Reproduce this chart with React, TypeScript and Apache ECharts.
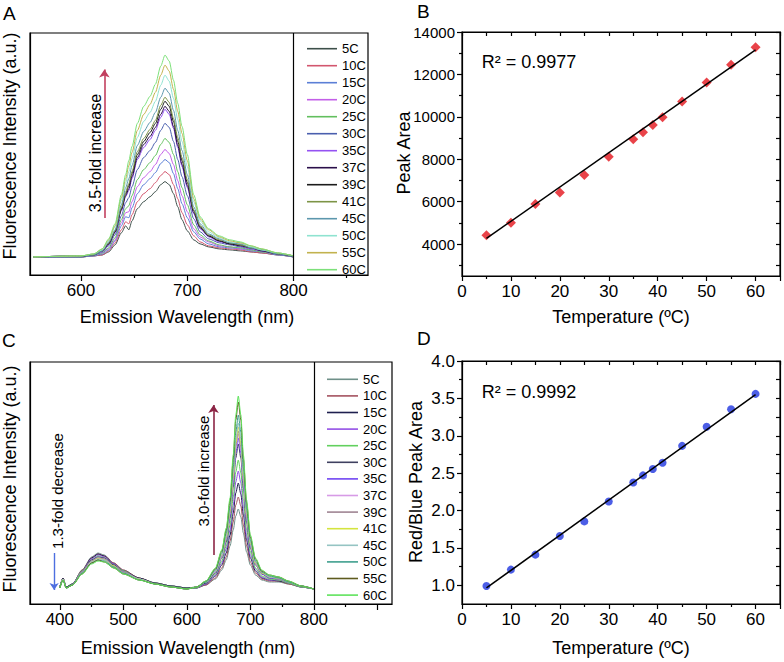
import React, { useEffect, useRef } from 'react';
import * as echarts from 'echarts';

const FONT = '"Liberation Sans", Arial, Helvetica, sans-serif';

// ---------- shared categories ----------
const TEMP_LABELS = ['5C', '10C', '15C', '20C', '25C', '30C', '35C', '37C', '39C', '41C', '45C', '50C', '55C', '60C'];

// ---------- Panel A : red-emission spectra ----------
const WL_A = [555, 600, 612, 620, 626, 632, 638, 642, 645, 648, 653, 659, 665, 670, 675, 679, 683, 687, 691, 695, 700, 706, 712, 720, 730, 740, 750, 760, 770, 785, 800];
const A_5C = [0, 0, 1, 2, 5, 12, 24, 31, 27, 36, 48, 55, 60, 65, 72, 75, 72, 63, 50, 37, 26, 17, 13, 10, 8, 7, 6, 5, 4, 2, 0];
const A_10C = [0, 0, 1, 2, 6, 14, 27, 35, 33, 42, 55, 63, 68, 74, 81, 85, 82, 72, 58, 44, 32, 21, 15, 11, 9, 8, 7, 5, 4, 2, 0];
const A_15C = [0, 0, 1, 3, 7, 16, 31, 40, 39, 49, 63, 72, 78, 84, 93, 97, 94, 83, 68, 53, 39, 25, 18, 13, 10, 9, 8, 6, 5, 2, 0];
const A_20C = [0, 0, 2, 4, 8, 17, 34, 44, 45, 55, 70, 79, 85, 92, 102, 107, 103, 92, 76, 61, 45, 28, 20, 15, 11, 10, 8, 7, 5, 3, 0];
const A_25C = [0, 0, 2, 4, 9, 19, 37, 48, 51, 61, 77, 87, 94, 101, 112, 118, 114, 102, 85, 69, 52, 32, 22, 16, 12, 10, 9, 7, 5, 3, 0];
const A_30C = [0, 0, 2, 5, 11, 22, 41, 54, 59, 70, 87, 99, 106, 114, 126, 133, 129, 115, 97, 80, 61, 38, 25, 18, 14, 12, 10, 8, 6, 3, 0];
const A_35C = [0, 1, 2, 5, 12, 24, 46, 60, 66, 78, 97, 109, 117, 126, 139, 147, 142, 128, 109, 90, 69, 43, 28, 20, 15, 13, 11, 8, 6, 3, 1];
const A_37C = [0, 1, 2, 6, 13, 25, 47, 61, 68, 80, 99, 112, 120, 129, 142, 150, 145, 130, 111, 92, 71, 44, 29, 21, 16, 13, 11, 9, 6, 3, 1];
const A_39C = [0, 1, 2, 6, 13, 25, 48, 63, 71, 83, 102, 115, 124, 133, 147, 155, 150, 135, 115, 96, 74, 46, 30, 21, 16, 13, 12, 9, 7, 3, 1];
const A_41C = [0, 1, 2, 6, 14, 26, 49, 65, 73, 85, 105, 118, 127, 136, 151, 159, 154, 138, 119, 99, 77, 47, 31, 22, 17, 14, 12, 9, 7, 3, 1];
const A_45C = [0, 1, 2, 6, 15, 27, 52, 69, 78, 91, 111, 125, 134, 144, 159, 168, 163, 146, 126, 106, 82, 50, 33, 23, 18, 14, 13, 9, 7, 3, 1];
const A_50C = [0, 1, 3, 7, 16, 30, 56, 74, 85, 98, 119, 135, 144, 155, 171, 181, 175, 158, 137, 115, 90, 55, 36, 25, 19, 15, 14, 10, 7, 4, 1];
const A_55C = [0, 1, 3, 8, 17, 31, 59, 78, 91, 104, 126, 142, 152, 164, 181, 191, 185, 167, 145, 123, 96, 58, 38, 27, 20, 16, 14, 11, 8, 4, 1];
const A_60C = [0, 1, 3, 8, 18, 33, 62, 82, 96, 110, 133, 150, 160, 172, 190, 201, 195, 176, 153, 130, 102, 62, 40, 28, 21, 17, 15, 11, 8, 4, 1];
const SPEC_A = [A_5C, A_10C, A_15C, A_20C, A_25C, A_30C, A_35C, A_37C, A_39C, A_41C, A_45C, A_50C, A_55C, A_60C];
const COLORS_A = ['#3d4f4a', '#d2566e', '#5b7fd6', '#c35fe8', '#62bf5e', '#4a5fae', '#9552f2', '#2a0f4a', '#1c1c1c', '#7d9446', '#5c97ad', '#8fe3d0', '#c2b24e', '#7de07a'];
const A_TICK_LABELS = [600, 700, 800];
const A_MINOR_TICKS = [650, 750, 850];

// ---------- Panel C : full spectra ----------
const WL_C = [400, 405, 410, 420, 435, 450, 460, 470, 485, 500, 525, 550, 575, 600, 615, 630, 645, 655, 662, 668, 673, 677, 681, 685, 689, 694, 700, 708, 718, 730, 745, 760, 780, 800];
const C_5C = [3, 12, 3, 6, 20, 33, 37, 35, 27, 20, 12, 7, 4, 2, 2, 5, 11, 20, 30, 44, 60, 74, 81, 73, 57, 38, 25, 15, 10, 8, 8, 6, 3, 1];
const C_10C = [3, 12, 3, 6, 20, 32, 36, 34, 27, 20, 12, 7, 4, 2, 2, 5, 12, 22, 33, 49, 68, 85, 93, 84, 65, 44, 28, 17, 11, 9, 9, 6, 3, 1];
const C_15C = [3, 12, 3, 6, 19, 32, 36, 34, 26, 19, 12, 7, 4, 2, 2, 6, 14, 25, 37, 55, 77, 97, 107, 96, 75, 50, 32, 19, 12, 10, 9, 7, 3, 1];
const C_20C = [3, 11, 3, 6, 19, 31, 35, 33, 26, 19, 11, 7, 4, 2, 2, 6, 15, 27, 41, 60, 85, 108, 119, 107, 83, 55, 35, 21, 13, 10, 10, 7, 3, 1];
const C_25C = [3, 11, 3, 6, 19, 30, 34, 32, 25, 19, 11, 7, 4, 2, 2, 7, 16, 29, 44, 65, 93, 118, 130, 117, 91, 61, 38, 22, 14, 11, 10, 7, 3, 1];
const C_30C = [3, 11, 3, 6, 18, 30, 33, 32, 25, 18, 11, 7, 4, 2, 3, 7, 17, 32, 48, 72, 103, 132, 146, 132, 102, 68, 42, 25, 16, 12, 11, 8, 4, 1];
const C_35C = [2, 11, 2, 5, 18, 29, 33, 31, 24, 18, 11, 6, 3, 1, 3, 8, 18, 33, 50, 74, 107, 137, 152, 137, 106, 71, 44, 26, 16, 12, 11, 8, 4, 1];
const C_37C = [2, 11, 2, 5, 18, 29, 32, 31, 24, 18, 11, 6, 3, 1, 3, 8, 18, 33, 51, 76, 110, 141, 156, 141, 109, 73, 45, 26, 17, 13, 11, 8, 4, 1];
const C_39C = [2, 11, 2, 5, 18, 29, 32, 31, 24, 18, 11, 6, 3, 1, 3, 8, 19, 34, 52, 77, 112, 144, 159, 143, 111, 74, 46, 27, 17, 13, 11, 8, 4, 1];
const C_41C = [2, 11, 2, 5, 17, 28, 32, 30, 24, 17, 11, 6, 3, 1, 3, 8, 19, 35, 53, 79, 114, 147, 163, 147, 114, 76, 47, 27, 17, 13, 12, 8, 4, 1];
const C_45C = [2, 11, 2, 5, 17, 28, 31, 30, 23, 17, 11, 6, 3, 1, 3, 8, 19, 35, 54, 81, 117, 151, 167, 151, 116, 78, 48, 28, 18, 13, 12, 8, 4, 1];
const C_50C = [2, 10, 2, 5, 17, 27, 30, 29, 23, 17, 10, 6, 3, 1, 3, 8, 20, 37, 57, 84, 122, 158, 175, 158, 122, 81, 50, 29, 18, 14, 12, 8, 4, 1];
const C_55C = [2, 10, 2, 5, 16, 27, 30, 28, 22, 16, 10, 6, 3, 1, 3, 9, 21, 39, 60, 89, 131, 170, 188, 170, 131, 87, 53, 31, 19, 15, 13, 9, 4, 1];
const C_60C = [2, 10, 2, 5, 16, 26, 29, 28, 22, 16, 10, 6, 3, 1, 3, 9, 22, 40, 62, 92, 135, 175, 194, 175, 135, 90, 55, 32, 20, 15, 13, 9, 4, 1];
const SPEC_C = [C_5C, C_10C, C_15C, C_20C, C_25C, C_30C, C_35C, C_37C, C_39C, C_41C, C_45C, C_50C, C_55C, C_60C];
const COLORS_C = ['#6f9089', '#a4525f', '#1e1f4f', '#9350e6', '#62d05e', '#3f4060', '#7044f2', '#d79be6', '#a08593', '#d4e43f', '#95c4c3', '#3f9f8e', '#5e5b1e', '#5fe35c'];
const C_TICK_LABELS = [400, 500, 600, 700, 800];
const C_MAJOR_TICKS = [400, 500, 600, 700, 800, 900];
const C_MINOR_TICKS = [450, 550, 650, 750, 850];

// ---------- Panels B and D ----------
const TEMPS = [5, 10, 15, 20, 25, 30, 35, 37, 39, 41, 45, 50, 55, 60];
const PEAK_AREA = [4420, 5010, 5890, 6430, 7260, 8120, 8950, 9280, 9620, 9980, 10720, 11620, 12460, 13280];
const RED_BLUE_RATIO = [0.99, 1.21, 1.41, 1.66, 1.855, 2.12, 2.375, 2.47, 2.555, 2.64, 2.865, 3.12, 3.355, 3.56];
const FIT_X = [5, 60];
const FIT_B_Y = [4270, 13160];
const FIT_D_Y = [0.965, 3.55];
const B_Y_LABELS = [4000, 6000, 8000, 10000, 12000, 14000];
const B_Y_MINOR = [3000, 5000, 7000, 9000, 11000, 13000];
const B_Y_RIGHT = [3000, 4000, 5000, 6000, 7000, 8000, 9000, 10000, 11000, 12000, 13000, 14000];
const D_Y_LABELS = [1.0, 1.5, 2.0, 2.5, 3.0, 3.5, 4.0];
const D_Y_MINOR = [1.25, 1.75, 2.25, 2.75, 3.25, 3.75];
const D_Y_RIGHT = [1.0, 1.25, 1.5, 1.75, 2.0, 2.25, 2.5, 2.75, 3.0, 3.25, 3.5, 3.75, 4.0];

const BLACK = '#000';
const AXLINE = { show: true, onZero: false, lineStyle: { color: BLACK, width: 1.2 } };
const NOLINE = { show: false, onZero: false };
const TICKSTYLE = { color: BLACK, width: 1.2 };

function buildOption(): any {
  const grid = [
    { left: 30, top: 33, width: 338, height: 242 },
    { left: 462, top: 32, width: 318, height: 244 },
    { left: 30, top: 362, width: 362, height: 242 },
    { left: 462, top: 361, width: 318, height: 243 },
  ].map((g) => ({ ...g, show: true, borderColor: BLACK, borderWidth: 1.2, backgroundColor: 'transparent', containLabel: false }));

  const tickLabel = { color: BLACK, fontSize: 17, fontFamily: FONT };

  const xAxis: any[] = [
    // 0 A main
    { gridIndex: 0, type: 'value', position: 'bottom', min: 552, max: 870, axisLine: AXLINE, splitLine: { show: false },
      axisTick: { show: true, length: 6, customValues: A_TICK_LABELS, lineStyle: TICKSTYLE },
      axisLabel: { ...tickLabel, margin: 7, customValues: A_TICK_LABELS } },
    // 1 A minor
    { gridIndex: 0, type: 'value', position: 'bottom', min: 552, max: 870, axisLine: NOLINE, splitLine: { show: false },
      axisTick: { show: true, length: 3, customValues: A_MINOR_TICKS, lineStyle: TICKSTYLE }, axisLabel: { show: false } },
    // 2 B bottom
    { gridIndex: 1, type: 'value', position: 'bottom', min: 0, max: 65, interval: 10, axisLine: AXLINE, splitLine: { show: false },
      axisTick: { show: true, length: 5, lineStyle: TICKSTYLE },
      minorTick: { show: true, splitNumber: 2, length: 3, lineStyle: TICKSTYLE },
      axisLabel: { ...tickLabel, margin: 7, showMaxLabel: false } },
    // 3 B top
    { gridIndex: 1, type: 'value', position: 'top', min: 0, max: 65, interval: 5, axisLine: AXLINE, splitLine: { show: false },
      axisTick: { show: true, inside: true, length: 4, lineStyle: TICKSTYLE }, axisLabel: { show: false } },
    // 4 C main
    { gridIndex: 2, type: 'value', position: 'bottom', min: 353, max: 923, axisLine: AXLINE, splitLine: { show: false },
      axisTick: { show: true, length: 6, customValues: C_MAJOR_TICKS, lineStyle: TICKSTYLE },
      axisLabel: { ...tickLabel, margin: 7, customValues: C_TICK_LABELS } },
    // 5 C minor
    { gridIndex: 2, type: 'value', position: 'bottom', min: 353, max: 923, axisLine: NOLINE, splitLine: { show: false },
      axisTick: { show: true, length: 3, customValues: C_MINOR_TICKS, lineStyle: TICKSTYLE }, axisLabel: { show: false } },
    // 6 D bottom
    { gridIndex: 3, type: 'value', position: 'bottom', min: 0, max: 65, interval: 10, axisLine: AXLINE, splitLine: { show: false },
      axisTick: { show: true, length: 5, lineStyle: TICKSTYLE },
      minorTick: { show: true, splitNumber: 2, length: 3, lineStyle: TICKSTYLE },
      axisLabel: { ...tickLabel, margin: 7, showMaxLabel: false } },
    // 7 D top
    { gridIndex: 3, type: 'value', position: 'top', min: 0, max: 65, interval: 5, axisLine: AXLINE, splitLine: { show: false },
      axisTick: { show: true, inside: true, length: 4, lineStyle: TICKSTYLE }, axisLabel: { show: false } },
  ];

  const yAxis: any[] = [
    // 0 A
    { gridIndex: 0, type: 'value', position: 'left', min: -18, max: 223, axisLine: AXLINE, axisTick: { show: false }, axisLabel: { show: false }, splitLine: { show: false } },
    // 1 B main
    { gridIndex: 1, type: 'value', position: 'left', min: 2500, max: 14000, axisLine: AXLINE, splitLine: { show: false },
      axisTick: { show: true, length: 5, customValues: B_Y_LABELS, lineStyle: TICKSTYLE },
      axisLabel: { color: BLACK, fontSize: 15, fontFamily: FONT, margin: 7, customValues: B_Y_LABELS, formatter: (v: number) => String(v) } },
    // 2 B minor
    { gridIndex: 1, type: 'value', position: 'left', min: 2500, max: 14000, axisLine: NOLINE, splitLine: { show: false },
      axisTick: { show: true, length: 3, customValues: B_Y_MINOR, lineStyle: TICKSTYLE }, axisLabel: { show: false } },
    // 3 B right
    { gridIndex: 1, type: 'value', position: 'right', min: 2500, max: 14000, axisLine: AXLINE, splitLine: { show: false },
      axisTick: { show: true, inside: true, length: 4, customValues: B_Y_RIGHT, lineStyle: TICKSTYLE }, axisLabel: { show: false } },
    // 4 C
    { gridIndex: 2, type: 'value', position: 'left', min: -14, max: 228, axisLine: AXLINE, axisTick: { show: false }, axisLabel: { show: false }, splitLine: { show: false } },
    // 5 D main
    { gridIndex: 3, type: 'value', position: 'left', min: 0.75, max: 4.0, axisLine: AXLINE, splitLine: { show: false },
      axisTick: { show: true, length: 5, customValues: D_Y_LABELS, lineStyle: TICKSTYLE },
      axisLabel: { ...tickLabel, margin: 7, customValues: D_Y_LABELS, formatter: (v: number) => v.toFixed(1) } },
    // 6 D minor
    { gridIndex: 3, type: 'value', position: 'left', min: 0.75, max: 4.0, axisLine: NOLINE, splitLine: { show: false },
      axisTick: { show: true, length: 3, customValues: D_Y_MINOR, lineStyle: TICKSTYLE }, axisLabel: { show: false } },
    // 7 D right
    { gridIndex: 3, type: 'value', position: 'right', min: 0.75, max: 4.0, axisLine: AXLINE, splitLine: { show: false },
      axisTick: { show: true, inside: true, length: 4, customValues: D_Y_RIGHT, lineStyle: TICKSTYLE }, axisLabel: { show: false } },
  ];

  const spectraA = TEMP_LABELS.map((name, i) => ({
    type: 'line', name, xAxisIndex: 0, yAxisIndex: 0, silent: true,
    data: WL_A.map((x, j) => [x, SPEC_A[i][j]]),
    symbol: 'none', showSymbol: false, smooth: 0.25, smoothMonotone: 'x',
    lineStyle: { width: 1, color: COLORS_A[i] }, itemStyle: { color: COLORS_A[i] },
  }));
  const spectraC = TEMP_LABELS.map((name, i) => ({
    type: 'line', name: 'c' + name, xAxisIndex: 4, yAxisIndex: 4, silent: true,
    data: WL_C.map((x, j) => [x, SPEC_C[i][j]]),
    symbol: 'none', showSymbol: false, smooth: 0.25, smoothMonotone: 'x',
    lineStyle: { width: 1, color: COLORS_C[i] }, itemStyle: { color: COLORS_C[i] },
  }));

  (spectraA[0] as any).markLine = {
    silent: true, symbol: 'none', label: { show: false }, animation: false,
    data: [
      [{ coord: [800, -18], lineStyle: { color: BLACK, width: 1.2, type: 'solid' } }, { coord: [800, 223] }],
      [{ coord: [622, 38.7], symbol: 'none', lineStyle: { color: '#c2405f', width: 1.6, type: 'solid' } },
       { coord: [622, 186.7], symbol: 'arrow', symbolSize: 8 }],
    ],
  };
  (spectraC[0] as any).markLine = {
    silent: true, symbol: 'none', label: { show: false }, animation: false,
    data: [
      [{ coord: [800, -14], lineStyle: { color: BLACK, width: 1.2, type: 'solid' } }, { coord: [800, 228] }],
      [{ coord: [642, 35], symbol: 'none', lineStyle: { color: '#8c2545', width: 1.6, type: 'solid' } },
       { coord: [642, 185], symbol: 'arrow', symbolSize: 8 }],
      [{ coord: [391, 37], symbol: 'none', lineStyle: { color: '#4d6fe0', width: 1.4, type: 'solid' } },
       { coord: [391, 0], symbol: 'arrow', symbolSize: 7 }],
    ],
  };

  const scatterB = [
    { type: 'line', name: 'fitB', xAxisIndex: 2, yAxisIndex: 1, silent: true, symbol: 'none',
      data: FIT_X.map((x, i) => [x, FIT_B_Y[i]]), lineStyle: { color: BLACK, width: 1.5 } },
    { type: 'scatter', name: 'peakArea', xAxisIndex: 2, yAxisIndex: 1, silent: true, symbol: 'diamond', symbolSize: 10,
      data: TEMPS.map((t, i) => [t, PEAK_AREA[i]]), itemStyle: { color: '#e3141c' } },
  ];
  const scatterD = [
    { type: 'line', name: 'fitD', xAxisIndex: 6, yAxisIndex: 5, silent: true, symbol: 'none',
      data: FIT_X.map((x, i) => [x, FIT_D_Y[i]]), lineStyle: { color: BLACK, width: 1.5 } },
    { type: 'scatter', name: 'ratio', xAxisIndex: 6, yAxisIndex: 5, silent: true, symbol: 'circle', symbolSize: 8,
      data: TEMPS.map((t, i) => [t, RED_BLUE_RATIO[i]]), itemStyle: { color: '#1f36e0' } },
  ];

  const legendCommon = {
    orient: 'vertical', itemGap: 0, itemHeight: 1.6, selectedMode: false, icon: 'rect',
    textStyle: { fontSize: 13, color: BLACK, fontFamily: FONT },
  };
  const legend = [
    { ...legendCommon, data: TEMP_LABELS, left: 302, top: 35.2, itemWidth: 30,
      textStyle: { ...legendCommon.textStyle, lineHeight: 17 } },
    { ...legendCommon, data: TEMP_LABELS.map((n) => 'c' + n), left: 322, top: 366, itemWidth: 31,
      formatter: (n: string) => n.slice(1), textStyle: { ...legendCommon.textStyle, lineHeight: 16.6 } },
  ];

  const txt = (text: string, x: number, y: number, fontSize: number, rot = 0, extra: any = {}) => ({
    type: 'text', x, y, rotation: rot, silent: true,
    style: { text, fontSize, fontFamily: FONT, fill: extra.fill || BLACK, align: extra.align || 'center', verticalAlign: 'middle',
      textAlign: extra.align || 'center', textVerticalAlign: 'middle' },
  });
  const R90 = Math.PI / 2;
  const graphic = [
    txt('A', 3, 13.5, 19, 0, { align: 'left' }),
    txt('B', 417, 11.5, 19, 0, { align: 'left' }),
    txt('C', 2, 340, 19, 0, { align: 'left' }),
    txt('D', 417, 338.5, 19, 0, { align: 'left' }),
    txt('Fluorescence Intensity (a.u.)', 10, 146, 18, R90),
    txt('Fluorescence Intensity (a.u.)', 10, 479, 18, R90),
    txt('Emission Wavelength (nm)', 187, 317, 18),
    txt('Emission Wavelength (nm)', 188, 647.5, 18),
    txt('Temperature (ºC)', 621, 317, 18),
    txt('Temperature (ºC)', 621, 647.5, 18),
    txt('Peak Area', 403.5, 153, 18, R90),
    txt('Red/Blue Peak Area', 415.5, 482, 18, R90),
    txt('R² = 0.9977', 481.7, 61.7, 18, 0, { align: 'left' }),
    txt('R² = 0.9992', 481.7, 391.5, 18, 0, { align: 'left' }),
    txt('3.5-fold increase', 95, 153, 16, R90),
    txt('3.0-fold increase', 203, 471, 15, R90),
    txt('1.3-fold decrease', 57.5, 491, 15, R90),
  ];

  return {
    animation: false,
    backgroundColor: '#fff',
    textStyle: { fontFamily: FONT },
    grid, xAxis, yAxis, legend,
    series: [...spectraA, ...spectraC, ...scatterB, ...scatterD],
    graphic: { elements: graphic },
  };
}

export default function App() {
  const ref = useRef<HTMLDivElement>(null);
  useEffect(() => {
    const chart = echarts.init(ref.current as HTMLDivElement, null, { renderer: 'svg' });
    chart.setOption(buildOption());
    return () => chart.dispose();
  }, []);
  return <div ref={ref} style={{ position: 'fixed', left: 0, top: 0, width: 784, height: 662, background: '#fff' }} />;
}
